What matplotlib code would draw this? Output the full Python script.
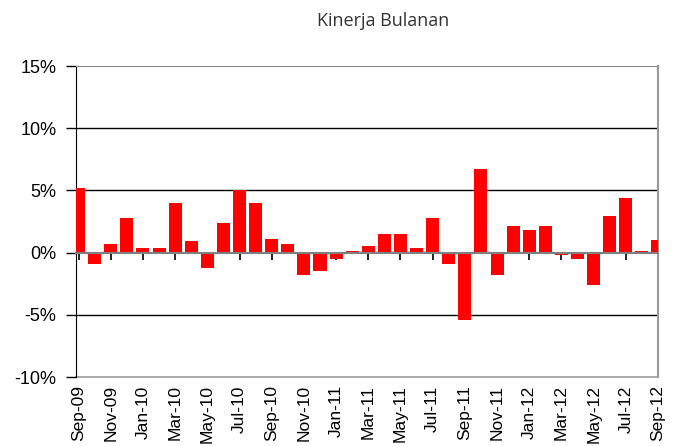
import matplotlib
matplotlib.use("Agg")
import matplotlib.pyplot as plt

months = [
    "Sep-09", "Oct-09", "Nov-09", "Dec-09", "Jan-10", "Feb-10", "Mar-10", "Apr-10",
    "May-10", "Jun-10", "Jul-10", "Aug-10", "Sep-10", "Oct-10", "Nov-10", "Dec-10",
    "Jan-11", "Feb-11", "Mar-11", "Apr-11", "May-11", "Jun-11", "Jul-11", "Aug-11",
    "Sep-11", "Oct-11", "Nov-11", "Dec-11", "Jan-12", "Feb-12", "Mar-12", "Apr-12",
    "May-12", "Jun-12", "Jul-12", "Aug-12", "Sep-12",
]
returns = [
    5.2, -0.9, 0.66, 2.8, 0.34, 0.34, 4.0, 0.9,
    -1.2, 2.4, 5.0, 4.0, 1.13, 0.66, -1.84, -1.45,
    -0.5, 0.1, 0.5, 1.53, 1.53, 0.34, 2.8, -0.9,
    -5.4, 6.7, -1.84, 2.16, 1.78, 2.1, -0.18, -0.5,
    -2.6, 2.97, 4.4, 0.1, 1.05,
]
yticks = [-10, -5, 0, 5, 10, 15]

plt.rcParams["font.family"] = ["Liberation Sans", "DejaVu Sans"]

fig = plt.figure(figsize=(6.76, 4.46), dpi=100)
ax = fig.add_axes([0.1124, 0.1547, 0.861, 0.6973])

x = list(range(len(months)))
ax.bar(x, returns, width=0.81, color="#ff0000", zorder=3)

ax.set_xlim(-0.16, 35.99)
ax.set_ylim(-10, 15)
ax.set_yticks(yticks)
ax.set_yticklabels([f"{v}%" for v in yticks], fontsize=13)
ax.tick_params(axis="y", direction="out", length=7, width=1, pad=7)

# gridlines
for v in yticks[1:-1]:
    if v != 0:
        ax.axhline(v, color="black", lw=1, zorder=1)

# spines
ax.spines["left"].set_color("black")
ax.spines["top"].set_color("#888888")
ax.spines["right"].set_color("#999999")
ax.spines["right"].set_linewidth(1.5)
ax.spines["bottom"].set_position(("data", 0))
ax.spines["bottom"].set_color("#808080")
ax.spines["bottom"].set_linewidth(1.5)
ax.spines["bottom"].set_zorder(4)

ticks = x[::2]
ax.set_xticks(ticks)
ax.tick_params(axis="x", direction="out", length=5, width=1.2, labelbottom=False)

# labels sit at the bottom of the plot area, marks stay on the zero line
sec = ax.secondary_xaxis(0)
sec.set_xticks(ticks)
sec.set_xticklabels(months[::2], rotation=90, fontsize=12.5)
sec.tick_params(length=0, pad=6)
sec.spines["bottom"].set_color("#999999")
sec.spines["bottom"].set_linewidth(1.2)

fig.text(0.567, 0.952, "Kinerja Bulanan", ha="center", va="center",
         fontsize=13, color="#333333", family=["Open Sans", "DejaVu Sans"])

fig.savefig("out.png", dpi=100)
